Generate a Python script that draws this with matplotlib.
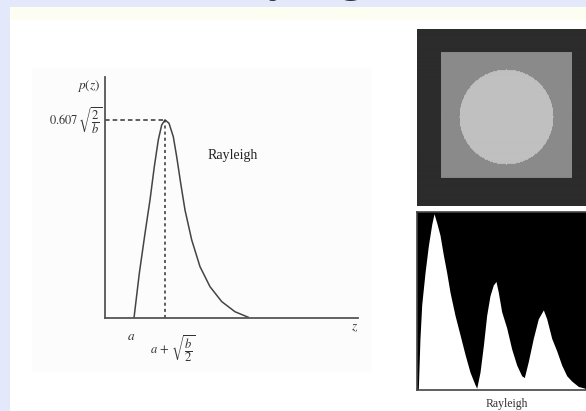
import numpy as np
import matplotlib
matplotlib.use("Agg")
import matplotlib.pyplot as plt
from matplotlib.patches import Rectangle

plt.rcParams['mathtext.fontset'] = 'stix'
plt.rcParams['font.family'] = ['Liberation Serif', 'DejaVu Serif']

# Rayleigh density curve (z in arbitrary units, a = 1.15)
z_vals = [1.146, 1.356, 1.581, 1.779, 1.949, 2.107, 2.241, 2.372, 2.530, 2.700,
          2.834, 2.992, 3.162, 3.427, 3.755, 4.150, 4.613, 5.138, 5.664]
p_vals = [0.0, 0.185, 0.351, 0.490, 0.628, 0.739, 0.801, 0.822, 0.808, 0.752,
          0.669, 0.559, 0.448, 0.324, 0.213, 0.130, 0.068, 0.026, 0.003]

# histogram of the noisy test image (gray level, relative count)
hist_level = [1.9, 4.4, 7.0, 11.9, 16.8, 21.8, 25.2, 29.2, 34.1, 39.0, 44.0, 48.9,
              56.3, 63.8, 71.2, 78.6, 86.0, 88.5, 93.4, 98.4, 103.3, 108.2, 113.1,
              117.1, 120.5, 125.5, 132.9, 140.4, 147.8, 155.2, 159.1, 165.0, 172.4,
              179.8, 187.3, 192.3, 199.7, 207.1, 214.5, 222.0, 229.4, 239.2, 249.1]
hist_count = [0.0, 0.29, 0.48, 0.66, 0.81, 0.93, 0.99, 0.94, 0.87, 0.76, 0.66, 0.55,
              0.42, 0.31, 0.20, 0.10, 0.03, 0.01, 0.10, 0.25, 0.42, 0.53, 0.59,
              0.61, 0.55, 0.44, 0.35, 0.23, 0.14, 0.08, 0.07, 0.16, 0.29,
              0.40, 0.45, 0.40, 0.29, 0.22, 0.14, 0.08, 0.05, 0.02, 0.01]

# gray levels of the test pattern: background, square, disc
img_levels = [44, 138, 192]

W, H = 586, 411


def box(x0, y0, x1, y1):
    return [x0 / W, 1 - y1 / H, (x1 - x0) / W, (y1 - y0) / H]


def txt(x, y, s, **kw):
    fig.text(x / W, 1 - y / H, s, **kw)


fig = plt.figure(figsize=(W / 100, H / 100), dpi=100)
fig.patch.set_facecolor('#e3e9fa')

# slide panel (kept behind the axes)
for (x0, y0, w, h, fc) in [(10, 7, 600, 420, 'white'),
                           (10, 7, 600, 13, '#fdfdf2'),
                           (32, 68, 340, 304, '#fcfcfc')]:
    fig.patches.append(Rectangle((x0 / W, 1 - (y0 + h) / H), w / W, h / H,
                                 transform=fig.transFigure, facecolor=fc,
                                 edgecolor='none', zorder=-10))

# title cut off by the top edge
fig.text(217 / W, 1 + 9.5 / H, "Rayleigh", fontsize=34, color='#333', va='baseline')

# density plot
ax = fig.add_axes(box(105, 77, 358, 318))
ax.set_xlim(0, 10)
ax.set_ylim(0, 1)
ax.patch.set_alpha(0)
for s in ['top', 'right']:
    ax.spines[s].set_visible(False)
for s in ['left', 'bottom']:
    ax.spines[s].set_color('#555')
    ax.spines[s].set_linewidth(1.3)
ax.set_xticks([])
ax.set_yticks([])
ax.plot(z_vals, p_vals, color='#444', lw=1.1)
ip = int(np.argmax(p_vals))
ax.plot([0, z_vals[ip]], [p_vals[ip], p_vals[ip]], ls=(0, (3, 2)), color='#333', lw=1.1)
ax.plot([z_vals[ip], z_vals[ip]], [0, p_vals[ip]], ls=(0, (2, 2)), color='#333', lw=1.1)

c = '#333'
txt(100, 86, r"$p(z)$", fontsize=9.5, ha='right', va='center', color=c)
txt(103, 121, r"$\mathrm{0.607}\,\sqrt{\dfrac{2}{b}}$", fontsize=9, ha='right', va='center', color=c)
txt(233, 155, "Rayleigh", fontsize=10, ha='center', va='center', color='#222')
txt(131, 337, r"$a$", fontsize=9.5, ha='center', va='center', color=c)
txt(173, 349, r"$a\,+\,\sqrt{\dfrac{b}{2}}$", fontsize=9, ha='center', va='center', color=c)
txt(355, 328, r"$z$", fontsize=9.5, ha='center', va='center', color=c)

# noisy test image (drawn flat)
axi = fig.add_axes(box(417, 29, 589, 206))
hh, ww = 177, 172
yy, xx = np.mgrid[0:hh, 0:ww]
img = np.full((hh, ww), img_levels[0], dtype=float)
img[(yy >= 24) & (yy < 149) & (xx >= 24) & (xx < 155)] = img_levels[1]
img[(xx - 89) ** 2 + (yy - 88) ** 2 <= 47 ** 2] = img_levels[2]
axi.imshow(img, cmap='gray', vmin=0, vmax=255, aspect='auto', interpolation='antialiased')
axi.axis('off')

# histogram
axh = fig.add_axes(box(417, 212, 589, 390))
axh.set_facecolor('black')
axh.fill_between(hist_level, 0, hist_count, color='white', lw=0)
axh.set_xlim(0, 255)
axh.set_ylim(0, 1.0)
axh.set_xticks([])
axh.set_yticks([])
for s in axh.spines.values():
    s.set_color('#444')
    s.set_linewidth(1.2)

txt(507, 404, "Rayleigh", fontsize=8.5, ha='center', va='center', color='#333')

fig.savefig("out.png", dpi=100, facecolor=fig.get_facecolor())
